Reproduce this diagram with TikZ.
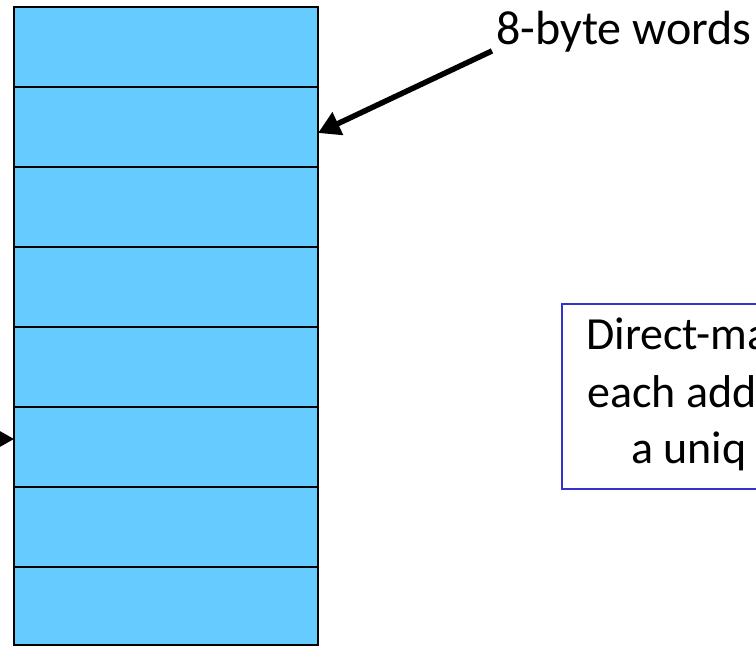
\documentclass[tikz,border=0pt]{standalone}
\usepackage{fontspec}
\setmainfont{Carlito}
\usetikzlibrary{positioning}
\usetikzlibrary{arrows.meta}
\definecolor{cellblue}{RGB}{102,204,255}
\definecolor{noteblue}{RGB}{51,51,204}

\begin{document}
\begin{tikzpicture}[x=1pt,y=-1pt,>={Triangle[length=22pt,width=24pt]},
    word/.style={draw,line width=2.5pt,fill=cellblue,minimum width=304pt,minimum height=80pt,
                 inner sep=0pt,outer sep=0pt,anchor=north west},
    big/.style={font=\fontsize{48}{57}\selectfont,inner sep=0pt,anchor=base west},
    note/.style={font=\fontsize{46}{57}\selectfont,inner sep=0pt,anchor=base west}]
  \useasboundingbox (0,0) rectangle (756,647);
  \clip (0,0) rectangle (756,647);

  % the block of words
  \foreach \i in {0,...,6}
    \node[word] (Word\i) at (14,{7+80*\i}) {};
  \node[word,minimum height=78pt] (Word7) at (14,567) {};

  % label and note
  \node[big] (Words) at (496,45) {8-byte words};
  \node[draw=noteblue,line width=2pt,minimum width=260pt,minimum height=185pt,
        inner sep=0pt,outer sep=0pt,anchor=north west] (Note) at (562,304) {};
  \node[note] (NoteA) at (586,350) {Direct-ma};
  \node[note] (NoteB) at (587,407) {each add};
  \node[note] (NoteC) at (631,464) {a uniq};

  % arrows
  \coordinate (Hit)  at ([yshift=-6pt]Word1.east);
  \coordinate (Feed) at (-60,439);
  \coordinate (Tip)  at ([yshift=8pt]Word5.west);
  \draw[->,line width=5.5pt] ([shift={(-4pt,2pt)}]Words.south west) -- (Hit);
  \draw[->,line width=3pt] (Feed) -- (Tip);
\end{tikzpicture}
\end{document}
